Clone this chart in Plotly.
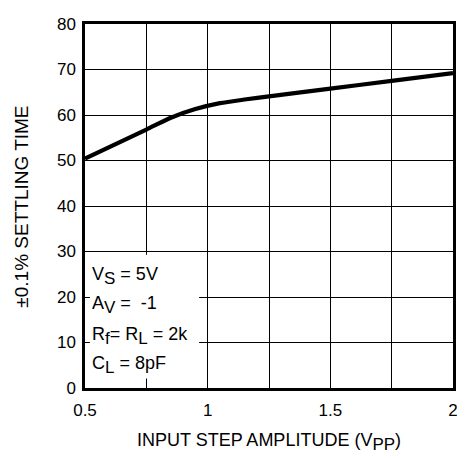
import plotly.graph_objects as go

amplitude_vpp = [0.5, 0.75, 0.85, 0.95, 1.05, 1.15, 1.25, 1.5, 1.75, 2.0]
settling_time = [50.4, 56.8, 59.4, 61.3, 62.6, 63.4, 64.1, 65.8, 67.5, 69.2]

x_ticks = [0.5, 1, 1.5, 2]
x_tick_text = ["0.5", "1", "1.5", "2"]
y_ticks = [0, 10, 20, 30, 40, 50, 60, 70, 80]


def sub(s, size=17):
    return "<sub><span style='font-size:%dpx'>%s</span></sub>" % (size, s)


cond_lines = ["V" + sub("S") + " = 5V", "A" + sub("V") + " =  -1",
              "R" + sub("f") + "= R" + sub("L") + " = 2k", "C" + sub("L") + " = 8pF"]
cond_y = [24.6, 18.2, 11.5, 5.1]

FONT = "Liberation Sans, Arial, sans-serif"

fig = go.Figure()
fig.add_trace(go.Scatter(x=amplitude_vpp, y=settling_time, mode="lines",
                         line=dict(color="black", width=4.2, shape="spline", smoothing=0.6),
                         showlegend=False, hoverinfo="skip"))

# white box behind the conditions text
fig.add_shape(type="rect", xref="x", yref="y", x0=0.52, x1=0.965, y0=2.1, y1=29.3,
              fillcolor="white", line=dict(width=0), layer="above")

for t, yv in zip(cond_lines, cond_y):
    fig.add_annotation(x=0.52, y=yv, xref="x", yref="y", text=t, showarrow=False,
                       xanchor="left", yanchor="middle",
                       font=dict(family=FONT, size=18, color="black"))

fig.add_annotation(x=-0.175, y=0.497, xref="paper", yref="paper",
                   text="±0.1% SETTLING TIME", textangle=-90, showarrow=False,
                   xanchor="center", yanchor="middle",
                   font=dict(family=FONT, size=19, color="black"))
fig.add_annotation(x=0.5, y=-0.147, xref="paper", yref="paper",
                   text="INPUT STEP AMPLITUDE (V" + sub("PP", 17) + ")", showarrow=False,
                   xanchor="center", yanchor="middle",
                   font=dict(family=FONT, size=18, color="black"))

fig.update_layout(
    width=457, height=452,
    margin=dict(l=77, r=9, t=7, b=72),
    paper_bgcolor="white", plot_bgcolor="white",
    font=dict(family=FONT, size=17, color="black"),
    xaxis=dict(range=[0.5, 2], tickvals=x_ticks, ticktext=x_tick_text,
               showgrid=True, gridcolor="black", gridwidth=1.4,
               showline=True, linecolor="black", linewidth=2.5, mirror=True,
               ticks="", ticklabelstandoff=5, zeroline=False, fixedrange=True,
               minor=dict(tickvals=[0.75, 1.25, 1.75], showgrid=True,
                          gridcolor="black", gridwidth=1.4)),
    yaxis=dict(range=[0, 80], tickvals=y_ticks,
               showgrid=True, gridcolor="black", gridwidth=1.4,
               showline=True, linecolor="black", linewidth=2.5, mirror=True,
               ticks="", ticklabelstandoff=3, zeroline=False, fixedrange=True),
)

fig.write_html("out.html")
